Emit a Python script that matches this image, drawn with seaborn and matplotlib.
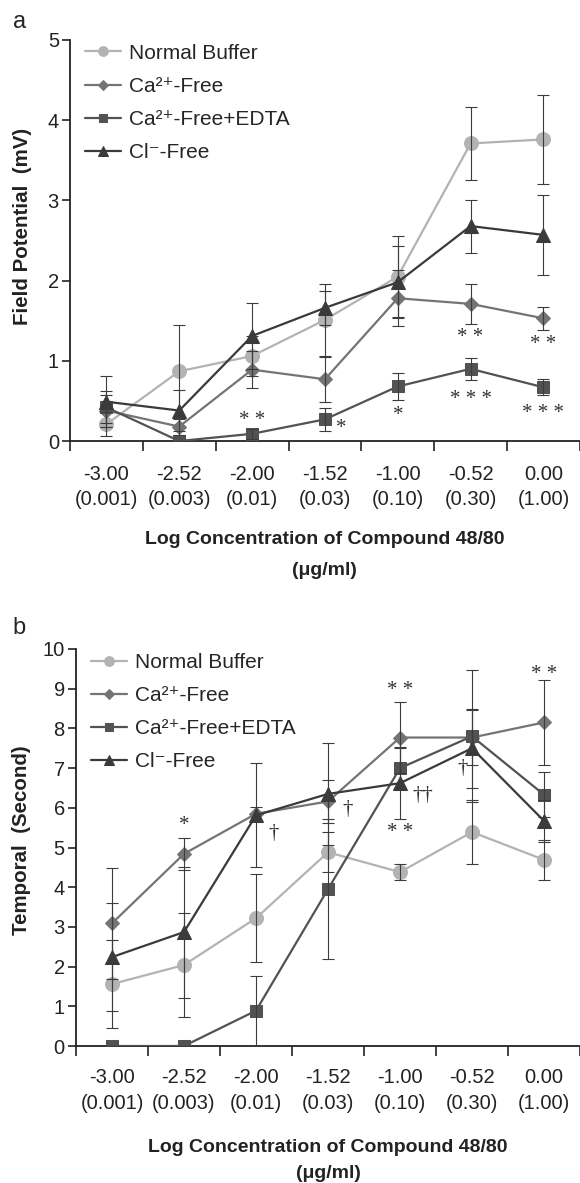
import numpy as np
import pandas as pd
import matplotlib
matplotlib.use("Agg")
import matplotlib.pyplot as plt
import seaborn as sns

sns.set_theme(style="ticks")
plt.rcParams['font.family'] = ['Liberation Sans', 'DejaVu Sans']

# ---------------- data ----------------
log_labels = ["-3.00", "-2.52", "-2.00", "-1.52", "-1.00", "-0.52", "0.00"]
conc_labels = ["(0.001)", "(0.003)", "(0.01)", "(0.03)", "(0.10)", "(0.30)", "(1.00)"]
series_names = ["Normal Buffer", "Ca²⁺-Free", "Ca²⁺-Free+EDTA", "Cl⁻-Free"]

# panel a: Field potential (mV)
fp_normal = [0.21, 0.87, 1.06, 1.51, 2.05, 3.71, 3.76]
fp_normal_err = [0.15, 0.58, 0.25, 0.45, 0.50, 0.46, 0.56]
fp_ca = [0.38, 0.18, 0.89, 0.77, 1.78, 1.71, 1.53]
fp_ca_err = [0.20, 0.10, 0.23, 0.28, 0.35, 0.25, 0.14]
fp_edta = [0.42, 0.00, 0.09, 0.27, 0.68, 0.90, 0.67]
fp_edta_err = [0.20, 0.00, 0.06, 0.14, 0.17, 0.14, 0.10]
fp_cl = [0.49, 0.38, 1.31, 1.66, 1.98, 2.68, 2.57]
fp_cl_err = [0.32, 0.26, 0.41, 0.21, 0.45, 0.33, 0.50]

# panel b: Temporal (second)
tp_normal = [1.56, 2.04, 3.22, 4.88, 4.38, 5.39, 4.69]
tp_normal_err = [1.10, 1.32, 1.10, 0.50, 0.20, 0.80, 0.50]
tp_ca = [3.09, 4.84, 5.85, 6.16, 7.77, 7.77, 8.15]
tp_ca_err = [1.40, 0.40, 0.17, 0.55, 0.90, 0.70, 1.06]
tp_edta = [0.00, 0.00, 0.89, 3.95, 7.00, 7.80, 6.33]
tp_edta_err = [0.00, 0.00, 0.88, 1.76, 0.50, 1.66, 0.56]
tp_cl = [2.24, 2.87, 5.81, 6.35, 6.62, 7.50, 5.67]
tp_cl_err = [1.35, 1.65, 1.31, 1.28, 0.90, 1.00, 0.52]

# significance marks: (category index, x offset in category units, y value, text)
sig_a = [(2, 0.0, 0.26, "* *"), (3, 0.22, 0.16, "*"), (4, 0.0, 0.32, "*"),
         (5, 0.0, 1.29, "* *"), (5, 0.0, 0.52, "* * *"),
         (6, 0.0, 1.20, "* *"), (6, 0.0, 0.34, "* * *")]
sig_b = [(1, 0.0, 5.55, "*"), (2, 0.25, 5.35, "†"), (3, 0.27, 5.95, "†"),
         (4, 0.0, 8.95, "* *"), (4, 0.32, 6.3, "††"), (4, 0.0, 5.38, "* *"),
         (5, -0.13, 7.0, "†"), (6, 0.0, 9.37, "* *")]

colors = ["#b3b3b3", "#747474", "#525252", "#3a3a3a"]
markers = ["o", "D", "s", "^"]
msizes = [10, 7.5, 8.5, 10]
err_color = "#3c3c3c"

pos = np.arange(len(log_labels)) + 0.5


def draw_panel(ax, vals, errs, ylim, yticks, ylabel, sig, tick_ls, tick_pad,
               xl_spacing, xl_pad, ylab_x, ylab_y):
    for i, (name, v, e) in enumerate(zip(series_names, vals, errs)):
        df = pd.DataFrame({"x": pos, "y": v})
        sns.lineplot(data=df, x="x", y="y", ax=ax, color=colors[i],
                     marker=markers[i], markersize=msizes[i],
                     markeredgecolor=colors[i], linewidth=1.6,
                     label=name, zorder=3 + i)
        ax.errorbar(pos, v, yerr=e, fmt="none", ecolor=err_color,
                    elinewidth=0.8, capsize=4, capthick=0.8, zorder=8)
    for idx, dx, yv, txt in sig:
        ax.text(pos[idx] + dx, yv, txt, ha="center", va="center",
                fontsize=15, color="#333333", zorder=10,
                family=["Liberation Serif", "DejaVu Serif"])
    ax.set_xlim(0, len(log_labels))
    ax.set_ylim(*ylim)
    ax.set_yticks(yticks)
    ax.set_xticks(np.arange(len(log_labels) + 1))
    ax.set_xticklabels([])
    ax.set_xticks(pos, minor=True)
    ax.set_xticklabels([f"{a}\n{b}" for a, b in zip(log_labels, conc_labels)],
                       minor=True, fontsize=14.5, linespacing=tick_ls)
    ax.tick_params(axis="x", which="minor", length=0, pad=tick_pad,
                   colors="#222222")
    ax.tick_params(axis="x", which="major", length=7, width=1.2, colors="#222222")
    ax.tick_params(axis="y", length=6, width=1.2, labelsize=14.5, pad=2,
                   colors="#222222")
    for s in ["left", "bottom"]:
        ax.spines[s].set_linewidth(1.3)
        ax.spines[s].set_color("#222222")
    sns.despine(ax=ax)
    ax.set_ylabel(ylabel, fontsize=14.8, fontweight="bold", color="#222222")
    ax.yaxis.set_label_coords(ylab_x, ylab_y)
    ax.set_xlabel("Log Concentration of Compound 48/80\n(μg/ml)", fontsize=14,
                  fontweight="bold", color="#222222", linespacing=xl_spacing,
                  labelpad=xl_pad)
    h, l = ax.get_legend_handles_labels()
    ax.legend(h, l, loc="upper left", bbox_to_anchor=(0.0, 1.027), frameon=False,
              fontsize=15, handlelength=1.75, handletextpad=0.4,
              labelspacing=0.68, markerscale=0.7, borderaxespad=0.3)


fig = plt.figure(figsize=(5.8, 11.83), dpi=100)
ax_a = fig.add_axes([0.1207, 0.6272, 0.879, 0.339])
ax_b = fig.add_axes([0.131, 0.1158, 0.869, 0.3356])

draw_panel(ax_a, [fp_normal, fp_ca, fp_edta, fp_cl],
           [fp_normal_err, fp_ca_err, fp_edta_err, fp_cl_err],
           (0, 5), range(0, 6), "Field Potential  (mV)", sig_a,
           1.4, 17, 2.05, 16, -0.075, 0.536)
draw_panel(ax_b, [tp_normal, tp_ca, tp_edta, tp_cl],
           [tp_normal_err, tp_ca_err, tp_edta_err, tp_cl_err],
           (0, 10), range(0, 11), "Temporal  (Second)", sig_b,
           1.5, 15.5, 1.72, 18.5, -0.090, 0.519)

fig.text(20 / 580, 1 - 22 / 1183, "a", fontsize=17, ha="center", va="center")
fig.text(19 / 580, 1 - 628 / 1183, "b", fontsize=17, ha="center", va="center")

fig.savefig("out.png", dpi=100, facecolor="white")
